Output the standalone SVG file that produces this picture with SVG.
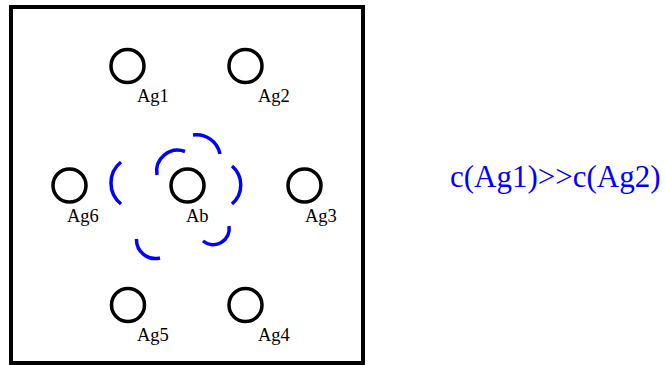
<svg xmlns="http://www.w3.org/2000/svg" width="665" height="365" viewBox="0 0 665 365">
<style>
.node circle{fill:none;stroke:#000;stroke-width:3.5}
.lbl{font-family:"Liberation Serif",serif;font-size:18.5px;fill:#000}
.arc{fill:none;stroke:#0000ff;stroke-width:3.5;stroke-linecap:butt}
.title{font-family:"Liberation Serif",serif;font-size:31px;fill:#0000ff}
</style>
<rect x="11" y="7" width="352" height="356" fill="#fff" stroke="#000" stroke-width="4"/>
<g id="Ag1" class="node"><circle cx="127.5" cy="66" r="16.5"/><text class="lbl" x="137" y="102">Ag1</text></g>
<g id="Ag2" class="node"><circle cx="245.5" cy="66" r="16.5"/><text class="lbl" x="258" y="102">Ag2</text></g>
<g id="Ag6" class="node"><circle cx="69.5" cy="185.5" r="16.5"/><text class="lbl" x="67" y="222">Ag6</text></g>
<g id="Ab" class="node"><circle cx="187.5" cy="185.5" r="16.5"/><text class="lbl" x="186" y="222">Ab</text></g>
<g id="Ag3" class="node"><circle cx="304.5" cy="185.5" r="16.5"/><text class="lbl" x="305" y="222">Ag3</text></g>
<g id="Ag5" class="node"><circle cx="128" cy="305" r="16.5"/><text class="lbl" x="137" y="341">Ag5</text></g>
<g id="Ag4" class="node"><circle cx="245.5" cy="305" r="16.5"/><text class="lbl" x="258" y="341">Ag4</text></g>
<g id="connectors">
<path class="arc" d="M121,162 A27,27 0 0 0 121,204"/>
<path class="arc" d="M232,166 A25,25 0 0 1 232,204"/>
<path class="arc" d="M185,151.5 A21,21 0 0 0 157,175"/>
<path class="arc" d="M193,135 A24,24 0 0 1 220,154"/>
<path class="arc" d="M229,226 A16,16 0 0 1 203,241"/>
<path class="arc" d="M136.5,239 A19,19 0 0 0 160,258"/>
</g>
<text class="title" x="450" y="187">c(Ag1)&gt;&gt;c(Ag2)</text>
</svg>
